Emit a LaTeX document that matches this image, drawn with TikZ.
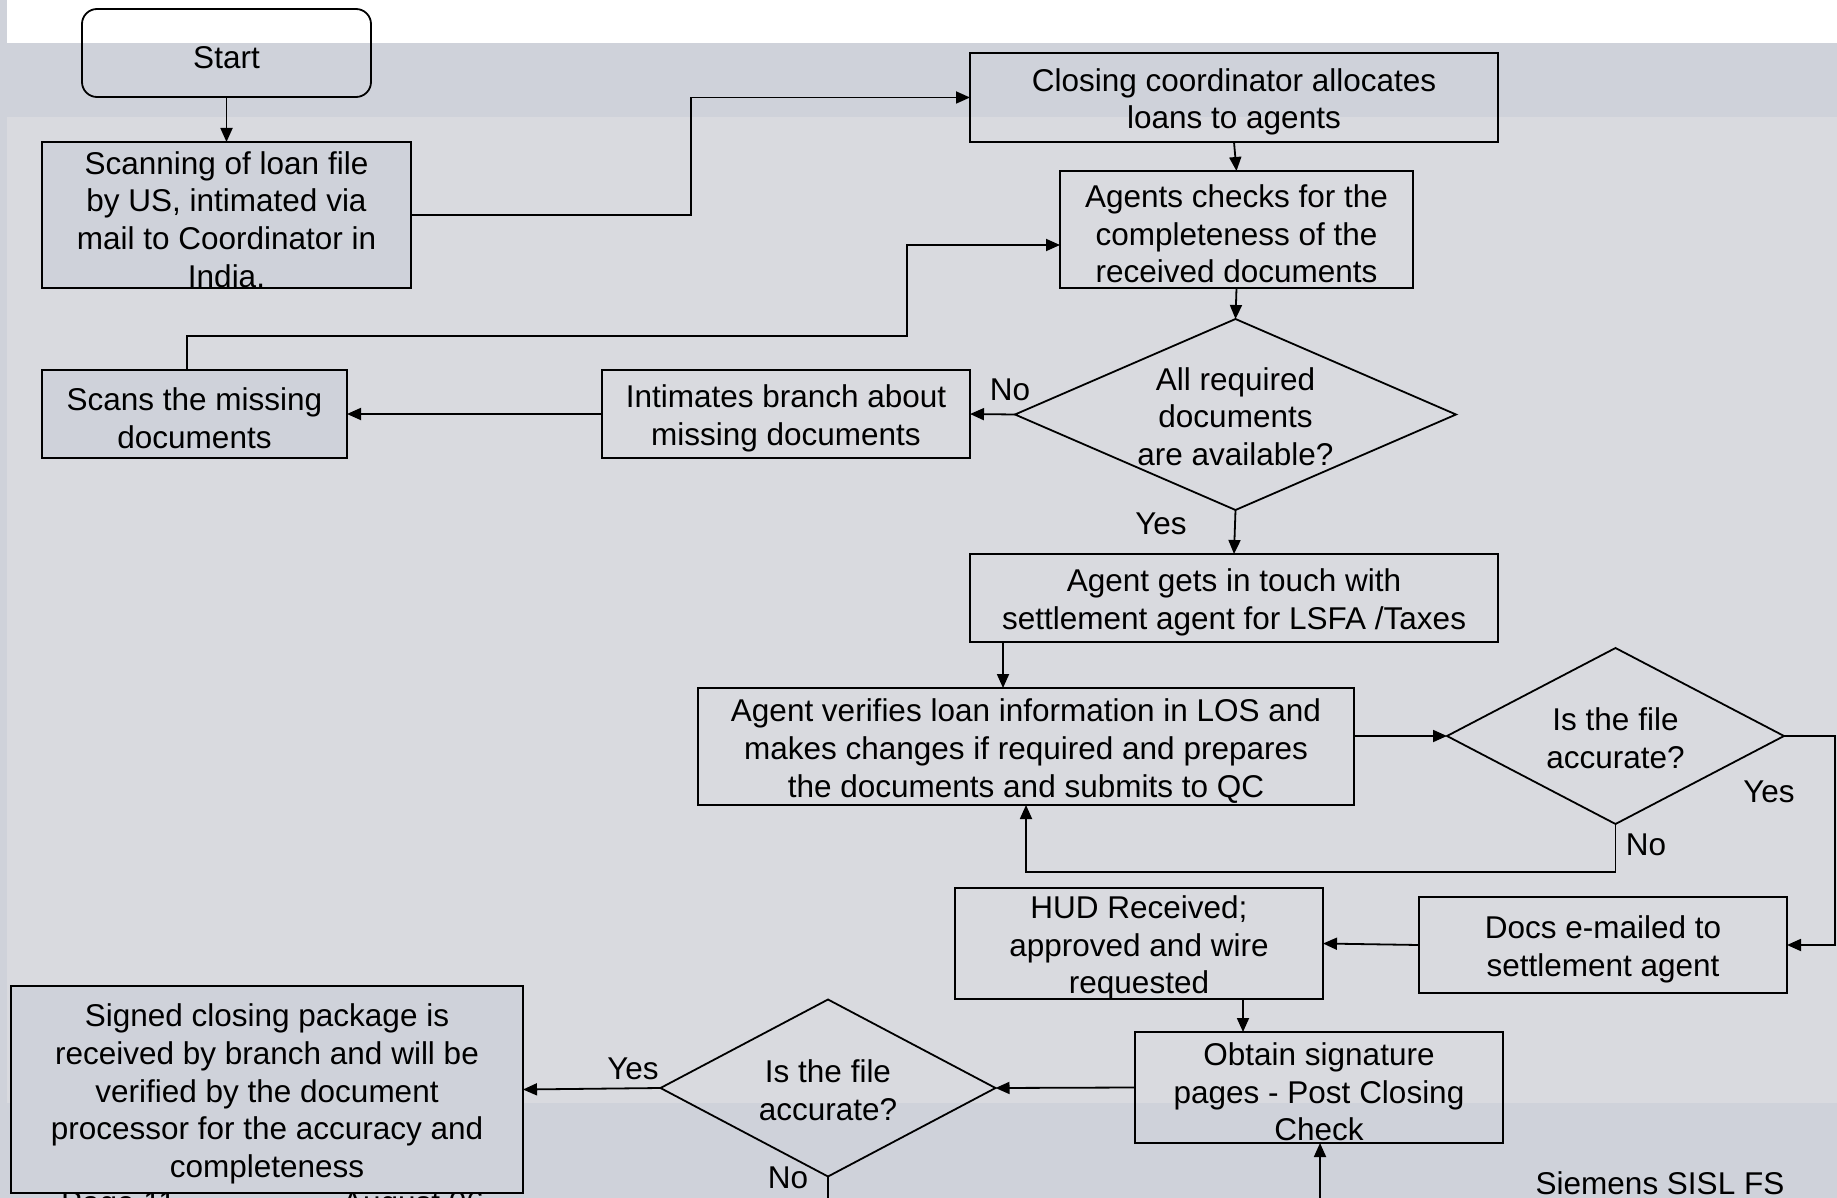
\documentclass[tikz,border=0pt]{standalone}
\usepackage{fontspec}
\setmainfont{Liberation Sans}
\usetikzlibrary{arrows.meta,shapes.geometric}
\definecolor{banddark}{RGB}{207,210,218}
\definecolor{bandlight}{RGB}{217,218,223}
\begin{document}
\begin{tikzpicture}[x=1pt,y=-1pt,
  every node/.style={inner sep=0pt, outer sep=0pt},
  txt/.style={align=center, font={\fontsize{31.5}{37.7}\selectfont}},
  boxtxt/.style={txt, yshift=-4.5pt},
  dectxt/.style={txt, yshift=-2pt},
  box/.style={draw, line width=1.8pt, rectangle},
  decide/.style={draw, line width=1.8pt, diamond},
  arr/.style={line width=1.8pt, -{Triangle[length=14pt,width=12pt]}},
  link/.style={line width=1.8pt},
]
\useasboundingbox (0,0) rectangle (1837,1198);
% page background bands
\fill[banddark] (0,0) rectangle (1837,1198);
\fill[white] (7,0) rectangle (1837,43);
\fill[bandlight] (7,117) rectangle (1837,1103);

% footer texts
\node[txt, anchor=base west] (pg) at (61,1213) {Page 11};
\node[txt, anchor=base west] (dt) at (342,1213) {August 06};
\node[txt, anchor=base] (org) at (1660,1194) {Siemens SISL FS};

% process steps
\node[box, rounded corners=15pt, minimum width=289pt, minimum height=88pt,
  label={[boxtxt]center:Start}] (start) at (226.5,53) {};
\node[box, fill=banddark, minimum width=369pt, minimum height=146pt,
  label={[boxtxt]center:{Scanning of loan file\\by US, intimated via\\mail to Coordinator in\\India.}}] (scan) at (226.5,215) {};
\node[box, minimum width=528pt, minimum height=89pt,
  label={[boxtxt]center:{Closing coordinator allocates\\loans to agents}}] (alloc) at (1234,97.5) {};
\node[box, minimum width=353pt, minimum height=117pt,
  label={[boxtxt]center:{Agents checks for the\\completeness of the\\received documents}}] (check) at (1236.5,229.5) {};
\node[decide, minimum width=441pt, minimum height=191pt,
  label={[dectxt]center:{All required\\documents\\are available?}}] (dec1) at (1235.5,414.5) {};
\node[box, minimum width=368pt, minimum height=88pt,
  label={[boxtxt]center:{Intimates branch about\\missing documents}}] (intim) at (786,414) {};
\node[box, fill=banddark, minimum width=305pt, minimum height=88pt,
  label={[boxtxt]center:{Scans the missing\\documents}}] (scans) at (194.5,414) {};
\node[box, minimum width=528pt, minimum height=88pt,
  label={[boxtxt]center:{Agent gets in touch with\\settlement agent for LSFA /Taxes}}] (touch) at (1234,598) {};
\node[box, minimum width=656pt, minimum height=117pt,
  label={[boxtxt]center:{Agent verifies loan information in LOS and\\makes changes if required and prepares\\the documents and submits to QC}}] (verify) at (1026,746.5) {};
\node[decide, minimum width=337pt, minimum height=176pt,
  label={[dectxt]center:{Is the file\\accurate?}}] (dec2) at (1615.5,736) {};
\node[box, minimum width=368pt, minimum height=96pt,
  label={[boxtxt]center:{Docs e-mailed to\\settlement agent}}] (docs) at (1603,945) {};
\node[box, minimum width=368pt, minimum height=111pt,
  label={[boxtxt]center:{HUD Received;\\approved and wire\\requested}}] (hud) at (1139,943.5) {};
\node[box, minimum width=368pt, minimum height=111pt,
  label={[boxtxt]center:{Obtain signature\\pages - Post Closing\\Check}}] (obtain) at (1319,1087.5) {};
\node[decide, minimum width=335pt, minimum height=177pt,
  label={[dectxt]center:{Is the file\\accurate?}}] (dec3) at (828,1088) {};
\node[box, fill=banddark, minimum width=512pt, minimum height=207pt,
  label={[boxtxt]center:{Signed closing package is\\received by branch and will be\\verified by the document\\processor for the accuracy and\\completeness}}] (signed) at (267,1089.5) {};

% bend points and loose ends
\coordinate (b1) at (691,97.5);
\coordinate (b2) at (187,336);
\coordinate (b3) at (907,336);
\coordinate (b4) at (1835,736);
\coordinate (out3) at (828,1215);
\coordinate (in3) at (1320,1215);

% connectors
\draw[arr] (start.south) -- (scan.north);
\draw[arr] (scan.east) -| (b1) -- (alloc.west);
\draw[arr] (alloc.south) -- (check.north);
\draw[arr] (check.south) -- (dec1.north);
\draw[arr] (dec1.west) -- (intim.east);
\draw[arr] (intim.west) -- (scans.east);
\draw[arr] ([xshift=-7.5pt]scans.north) -- (b2) -- (b3) |- ([yshift=-15.5pt]check.west);
\draw[arr] (dec1.south) -- (touch.north);
\draw[arr] ([xshift=-231pt]touch.south) -- ([xshift=-231pt]touch.south |- verify.north);
\draw[arr] (verify.east |- dec2.west) -- (dec2.west);
\draw[arr] (dec2.south) -- ++(0,48) -| (verify.south);
\draw[arr] (dec2.east) -- (b4) |- (docs.east);
\draw[arr] (docs.west) -- (hud.east);
\draw[arr] ([xshift=104pt]hud.south) -- ([xshift=104pt]hud.south |- obtain.north);
\draw[arr] (obtain.west) -- (dec3.east);
\draw[arr] (dec3.west) -- (signed.east);
\draw[link] (dec3.south) -- (out3);
\draw[arr] (in3) -- (in3 |- obtain.south);

% branch labels
\node[txt] (n1) at (1010,390) {No};
\node[txt] (y1) at (1161,524) {Yes};
\node[txt] (n2) at (1646,845) {No};
\node[txt] (y2) at (1769,792) {Yes};
\node[txt] (y3) at (633,1069) {Yes};
\node[txt] (n3) at (788,1178) {No};
\end{tikzpicture}
\end{document}
